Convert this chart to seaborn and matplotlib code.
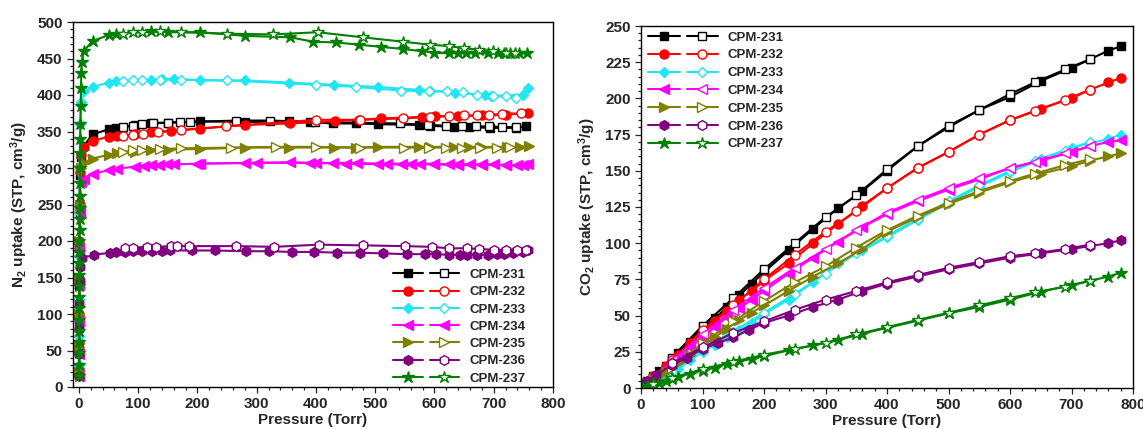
import matplotlib
matplotlib.use('Agg')
import matplotlib.pyplot as plt
from matplotlib.legend_handler import HandlerTuple
from matplotlib.ticker import MultipleLocator
import seaborn as sns

# style: seaborn ticks + bold Arial-like font
sns.set_style('ticks')
plt.rcParams['font.family'] = ['Liberation Sans', 'DejaVu Sans']
plt.rcParams['font.weight'] = 'bold'
plt.rcParams['axes.labelweight'] = 'bold'
plt.rcParams['mathtext.fontset'] = 'custom'
plt.rcParams['mathtext.rm'] = 'Liberation Sans:bold'
plt.rcParams['mathtext.it'] = 'Liberation Sans:bold'
plt.rcParams['mathtext.bf'] = 'Liberation Sans:bold'
plt.rcParams['axes.edgecolor'] = 'black'
plt.rcParams['axes.linewidth'] = 1.0

# samples
samples = ['CPM-231', 'CPM-232', 'CPM-233', 'CPM-234', 'CPM-235', 'CPM-236', 'CPM-237']
colors = ['black', '#ff0000', '#1fe6f2', '#ff00ff', '#808000', '#800080', '#008000']
markers = ['s', 'o', 'D', '<', '>', 'h', '*']
sizes = [5.5, 6.5, 5.5, 7, 7, 7, 9]
n2_des_filled = [False, False, False, True, False, False, False]

# ---- N2 isotherms (77 K), adsorption / desorption
n2_231_ads_p = [0.1, 0.2, 0.3, 0.5, 0.7, 1, 2, 4, 8, 23, 50, 62, 95, 122, 150, 205, 281, 355, 390, 428, 468, 505, 574, 592, 633, 658, 694, 737, 755]
n2_231_ads_v = [20, 50, 90, 140, 190, 240, 290, 315, 330, 346, 353, 355, 359, 361, 362, 364, 363, 364, 363, 361, 361, 360, 359, 358, 356, 356, 355, 355, 357]
n2_231_des_p = [75, 92, 107, 125, 150, 170, 187, 265, 323, 399, 541, 589, 620, 647, 670, 692, 714, 737]
n2_231_des_v = [356, 358, 360, 362, 362, 363, 363, 365, 365, 363, 361, 359, 358, 357, 357, 357, 356, 356]

n2_232_ads_p = [0.1, 0.2, 0.3, 0.5, 0.7, 1, 2, 4, 8, 23, 50, 64, 95, 122, 156, 205, 280, 356, 432, 472, 509, 579, 601, 639, 680, 720, 758]
n2_232_ads_v = [25, 60, 100, 150, 200, 250, 295, 318, 329, 337, 343, 344, 346, 349, 351, 354, 359, 361, 364, 366, 368, 370, 371, 371, 372, 373, 375]
n2_232_des_p = [75, 92, 108, 133, 172, 248, 400, 474, 547, 592, 624, 649, 672, 692, 714, 746]
n2_232_des_v = [344, 345, 347, 349, 352, 357, 366, 366, 368, 370, 371, 372, 372, 373, 374, 375]

n2_233_ads_p = [0.1, 0.2, 0.3, 0.5, 0.7, 1, 2, 4, 8, 23, 50, 62, 122, 140, 160, 205, 281, 355, 430, 505, 574, 592, 634, 686, 696, 750, 758]
n2_233_ads_v = [30, 70, 120, 180, 240, 300, 360, 390, 405, 411, 417, 419, 421, 422, 422, 420, 420, 417, 414, 411, 407, 406, 403, 400, 399, 400, 410]
n2_233_des_p = [75, 92, 107, 137, 172, 250, 400, 468, 544, 591, 621, 648, 672, 698, 720, 738]
n2_233_des_v = [419, 420, 420, 421, 421, 420, 414, 411, 406, 405, 405, 404, 400, 398, 398, 396]

n2_234_ads_p = [0.1, 0.2, 0.3, 0.5, 0.7, 1, 3, 8, 23, 50, 64, 95, 110, 122, 135, 148, 160, 205, 281, 357, 390, 428, 470, 505, 545, 575, 600, 625, 640, 660, 680, 700, 720, 740, 758]
n2_234_ads_v = [15, 45, 90, 140, 190, 240, 281, 285, 292, 297, 299, 302, 303, 304, 304, 305, 305, 306, 307, 308, 307, 307, 307, 306, 306, 306, 306, 305, 305, 305, 305, 305, 304, 304, 305]
n2_234_des_p = [200, 300, 400, 450, 520, 560, 600, 640, 680, 720, 750]
n2_234_des_v = [306, 307, 307, 306, 305, 305, 305, 304, 304, 304, 304]

n2_235_ads_p = [0.1, 0.2, 0.3, 0.5, 0.7, 1, 3, 8, 23, 50, 64, 95, 122, 150, 205, 281, 355, 430, 468, 505, 574, 592, 633, 658, 680, 723, 745, 760]
n2_235_ads_v = [20, 55, 100, 150, 200, 250, 300, 307, 313, 318, 320, 322, 324, 325, 326, 328, 328, 328, 328, 329, 329, 329, 329, 329, 329, 329, 329, 330]
n2_235_des_p = [75, 92, 107, 137, 172, 257, 333, 400, 474, 549, 591, 620, 647, 676, 706, 728]
n2_235_des_v = [322, 324, 325, 326, 327, 328, 329, 329, 328, 328, 328, 328, 328, 328, 328, 329]

n2_236_ads_p = [0.1, 0.2, 0.4, 0.7, 1, 2, 6, 26, 52, 63, 78, 92, 107, 123, 140, 154, 191, 230, 282, 321, 360, 397, 435, 474, 513, 553, 584, 602, 624, 643, 655, 671, 690, 705, 718, 733, 749, 758]
n2_236_ads_v = [15, 45, 80, 115, 145, 165, 177, 181, 184, 185, 185, 186, 186, 186, 186, 187, 187, 187, 186, 186, 185, 185, 184, 184, 183, 182, 182, 182, 181, 181, 181, 181, 181, 182, 182, 183, 185, 187]
n2_236_des_p = [78, 92, 115, 130, 155, 165, 185, 265, 330, 405, 480, 550, 595, 625, 655, 675, 700, 720, 740, 755]
n2_236_des_v = [190, 191, 192, 192, 193, 193, 193, 193, 192, 195, 194, 193, 192, 190, 190, 189, 188, 188, 188, 188]

n2_237_ads_p = [0.1, 0.15, 0.2, 0.25, 0.3, 0.35, 0.4, 0.45, 0.5, 0.6, 0.7, 0.8, 0.9, 1, 1.1, 1.2, 1.4, 1.6, 1.8, 2, 2.3, 2.6, 3, 3.5, 4, 5, 8, 23, 50, 62, 122, 150, 205, 281, 357, 395, 433, 472, 509, 547, 579, 599, 624, 639, 654, 668, 691, 708, 718, 728, 742, 756]
n2_237_ads_v = [15, 30, 46, 62, 77, 92, 108, 123, 138, 153, 170, 185, 200, 215, 230, 245, 262, 280, 300, 320, 340, 360, 385, 410, 430, 445, 460, 474, 482, 484, 487, 486, 486, 481, 479, 473, 472, 469, 466, 463, 460, 458, 457, 457, 457, 457, 457, 457, 457, 457, 457, 457]
n2_237_des_p = [75, 92, 107, 137, 172, 250, 328, 403, 479, 547, 592, 624, 650, 675, 699, 720, 736]
n2_237_des_v = [484, 486, 486, 487, 486, 484, 483, 486, 479, 473, 469, 467, 464, 462, 460, 458, 457]

# ---- CO2 isotherms, adsorption / desorption
co2_231_ads_p = [2, 10, 20, 30, 40, 50, 60, 80, 100, 120, 140, 160, 180, 200, 240, 280, 320, 360, 400, 450, 500, 550, 600, 650, 700, 730, 760, 780]
co2_231_ads_v = [2, 5, 8, 12, 15, 19, 24, 32, 42, 48, 56, 64, 72, 80, 95, 110, 124, 136, 150, 167, 180, 192, 201, 212, 221, 227, 233, 236]
co2_231_des_p = [50, 100, 150, 200, 250, 300, 350, 400, 450, 500, 550, 600, 640, 690, 730]
co2_231_des_v = [21, 43, 62, 82, 100, 118, 133, 151, 167, 181, 192, 203, 211, 220, 227]

co2_232_ads_p = [2, 10, 20, 40, 60, 80, 100, 120, 140, 160, 180, 200, 240, 280, 320, 360, 400, 450, 500, 550, 600, 650, 700, 730, 760, 780]
co2_232_ads_v = [2, 4, 8, 15, 23, 31, 38, 46, 53, 61, 67, 74, 86, 100, 113, 126, 138, 152, 163, 175, 185, 193, 200, 206, 211, 214]
co2_232_des_p = [50, 100, 150, 200, 250, 300, 350, 400, 450, 500, 550, 600, 640, 690, 730]
co2_232_des_v = [19, 40, 57, 75, 92, 108, 122, 138, 152, 163, 175, 185, 191, 199, 206]

co2_233_ads_p = [2, 10, 20, 40, 60, 80, 100, 120, 140, 160, 180, 200, 240, 280, 320, 360, 400, 450, 500, 550, 600, 650, 700, 730, 760, 780]
co2_233_ads_v = [1, 2, 4, 8, 13, 19, 25, 30, 35, 40, 45, 51, 61, 73, 86, 95, 104, 116, 128, 139, 149, 158, 166, 169, 172, 175]
co2_233_des_p = [50, 100, 150, 200, 250, 300, 350, 400, 450, 500, 550, 600, 640, 690, 730]
co2_233_des_v = [11, 27, 39, 52, 65, 79, 93, 105, 117, 129, 140, 150, 157, 164, 170]

co2_234_ads_p = [2, 10, 20, 40, 60, 80, 100, 120, 140, 160, 180, 200, 240, 280, 320, 360, 400, 450, 500, 550, 600, 650, 700, 730, 760, 780]
co2_234_ads_v = [2, 4, 7, 14, 21, 28, 35, 42, 49, 55, 61, 67, 79, 90, 101, 111, 120, 129, 137, 144, 152, 157, 163, 167, 170, 171]
co2_234_des_p = [50, 100, 150, 200, 250, 300, 350, 400, 450, 500, 550, 600, 640, 690, 730]
co2_234_des_v = [19, 37, 54, 69, 83, 96, 109, 121, 130, 138, 145, 152, 156, 162, 167]

co2_235_ads_p = [2, 10, 20, 40, 60, 80, 100, 120, 140, 160, 180, 200, 240, 280, 320, 360, 400, 450, 500, 550, 600, 650, 700, 730, 760, 780]
co2_235_ads_v = [1, 3, 6, 11, 17, 23, 29, 35, 41, 47, 52, 57, 67, 77, 86, 96, 108, 118, 127, 135, 142, 148, 153, 157, 160, 162]
co2_235_des_p = [50, 100, 150, 200, 250, 300, 350, 400, 450, 500, 550, 600, 640, 690, 730]
co2_235_des_v = [14, 31, 46, 60, 73, 84, 97, 109, 119, 128, 136, 143, 148, 154, 158]

co2_236_ads_p = [2, 10, 25, 50, 75, 100, 125, 150, 175, 200, 240, 280, 320, 360, 400, 450, 500, 550, 600, 650, 700, 730, 760, 780]
co2_236_ads_v = [2, 5, 9, 16, 21, 27, 31, 35, 40, 45, 50, 56, 61, 67, 72, 77, 82, 86, 90, 93, 96, 98, 100, 102]
co2_236_des_p = [50, 100, 150, 200, 250, 300, 350, 400, 450, 500, 550, 600, 640, 690, 730]
co2_236_des_v = [17, 28, 38, 46, 54, 61, 67, 73, 78, 83, 87, 91, 93, 96, 99]

co2_237_ads_p = [2, 10, 20, 30, 40, 50, 60, 80, 100, 120, 140, 160, 180, 200, 240, 280, 320, 360, 400, 450, 500, 550, 600, 650, 700, 730, 760, 780]
co2_237_ads_v = [1, 1.5, 2.5, 3.5, 5, 6, 7.5, 10, 12, 14, 16.5, 18.5, 20, 22, 26, 29.5, 33, 37.5, 41.5, 46.5, 51.5, 56, 61, 66.5, 71, 74, 77, 79.5]
co2_237_des_p = [20, 50, 100, 150, 200, 250, 300, 350, 400, 450, 500, 550, 600, 640, 690, 730]
co2_237_des_v = [3, 7, 13, 18, 23, 27, 31, 37, 42, 47, 52, 57, 62, 66, 70, 74]

n2_data = [
    (n2_231_ads_p, n2_231_ads_v, n2_231_des_p, n2_231_des_v),
    (n2_232_ads_p, n2_232_ads_v, n2_232_des_p, n2_232_des_v),
    (n2_233_ads_p, n2_233_ads_v, n2_233_des_p, n2_233_des_v),
    (n2_234_ads_p, n2_234_ads_v, n2_234_des_p, n2_234_des_v),
    (n2_235_ads_p, n2_235_ads_v, n2_235_des_p, n2_235_des_v),
    (n2_236_ads_p, n2_236_ads_v, n2_236_des_p, n2_236_des_v),
    (n2_237_ads_p, n2_237_ads_v, n2_237_des_p, n2_237_des_v),
]
co2_data = [
    (co2_231_ads_p, co2_231_ads_v, co2_231_des_p, co2_231_des_v),
    (co2_232_ads_p, co2_232_ads_v, co2_232_des_p, co2_232_des_v),
    (co2_233_ads_p, co2_233_ads_v, co2_233_des_p, co2_233_des_v),
    (co2_234_ads_p, co2_234_ads_v, co2_234_des_p, co2_234_des_v),
    (co2_235_ads_p, co2_235_ads_v, co2_235_des_p, co2_235_des_v),
    (co2_236_ads_p, co2_236_ads_v, co2_236_des_p, co2_236_des_v),
    (co2_237_ads_p, co2_237_ads_v, co2_237_des_p, co2_237_des_v),
]


def draw_branch(ax, p, v, color, marker, ms, filled):
    sns.lineplot(x=p, y=v, ax=ax, color=color, marker=marker, markersize=ms,
                 markerfacecolor=color if filled else 'white',
                 markeredgecolor=color, markeredgewidth=1.0, linewidth=1.5,
                 sort=False, estimator=None)
    return ax.lines[-1]


def draw_panel(ax, data, des_filled):
    handles = []
    for i, (pa, va, pd_, vd) in enumerate(data):
        h1 = draw_branch(ax, pa, va, colors[i], markers[i], sizes[i], True)
        h2 = draw_branch(ax, pd_, vd, colors[i], markers[i], sizes[i], des_filled[i])
        handles.append((h1, h2))
    return handles


def style_axes(ax, ymaj, ymin):
    ax.xaxis.set_major_locator(MultipleLocator(100))
    ax.xaxis.set_minor_locator(MultipleLocator(20))
    ax.yaxis.set_major_locator(MultipleLocator(ymaj))
    ax.yaxis.set_minor_locator(MultipleLocator(ymin))
    ax.tick_params(which='both', direction='out', top=False, right=False,
                   width=0.9, labelsize=11, pad=3)
    ax.tick_params(which='major', length=4.5)
    ax.tick_params(which='minor', length=2.3)
    for s in ax.spines.values():
        s.set_visible(True)
        s.set_linewidth(1.0)
    ax.set_xlabel('Pressure (Torr)', fontsize=11, fontweight='bold', labelpad=1)


fig = plt.figure(figsize=(11.43, 4.29), dpi=100)
ax1 = fig.add_axes([73 / 1143, 1 - 387 / 429, 480 / 1143, 365 / 429])
ax2 = fig.add_axes([641 / 1143, 1 - 388 / 429, 492 / 1143, 362 / 429])

# N2 panel
h_n2 = draw_panel(ax1, n2_data, n2_des_filled)
ax1.set_xlim(-10, 800)
ax1.set_ylim(0, 500)
style_axes(ax1, 50, 10)
ax1.set_ylabel(r'N$_2$ uptake (STP, cm$^3$/g)', fontsize=11, fontweight='bold', labelpad=5)
ax1.legend(h_n2, samples, handler_map={tuple: HandlerTuple(ndivide=None, pad=0.5)},
           loc='lower right', bbox_to_anchor=(0.96, -0.015), frameon=False,
           handlelength=5.0, handletextpad=0.8, labelspacing=0.38,
           borderaxespad=0.2, numpoints=1, prop={'weight': 'bold', 'size': 9.5})

# CO2 panel
h_co2 = draw_panel(ax2, co2_data, [False] * 7)
ax2.set_xlim(0, 800)
ax2.set_ylim(0, 250)
style_axes(ax2, 25, 5)
ax2.set_ylabel(r'CO$_2$ uptake (STP, cm$^3$/g)', fontsize=11, fontweight='bold', labelpad=5)
ax2.legend(h_co2, samples, handler_map={tuple: HandlerTuple(ndivide=None, pad=0.5)},
           loc='upper left', bbox_to_anchor=(0.0, 1.005), frameon=False,
           handlelength=5.3, handletextpad=0.7, labelspacing=0.42,
           borderaxespad=0.15, numpoints=1, prop={'weight': 'bold', 'size': 9.5})

fig.savefig('out.png', dpi=100)
